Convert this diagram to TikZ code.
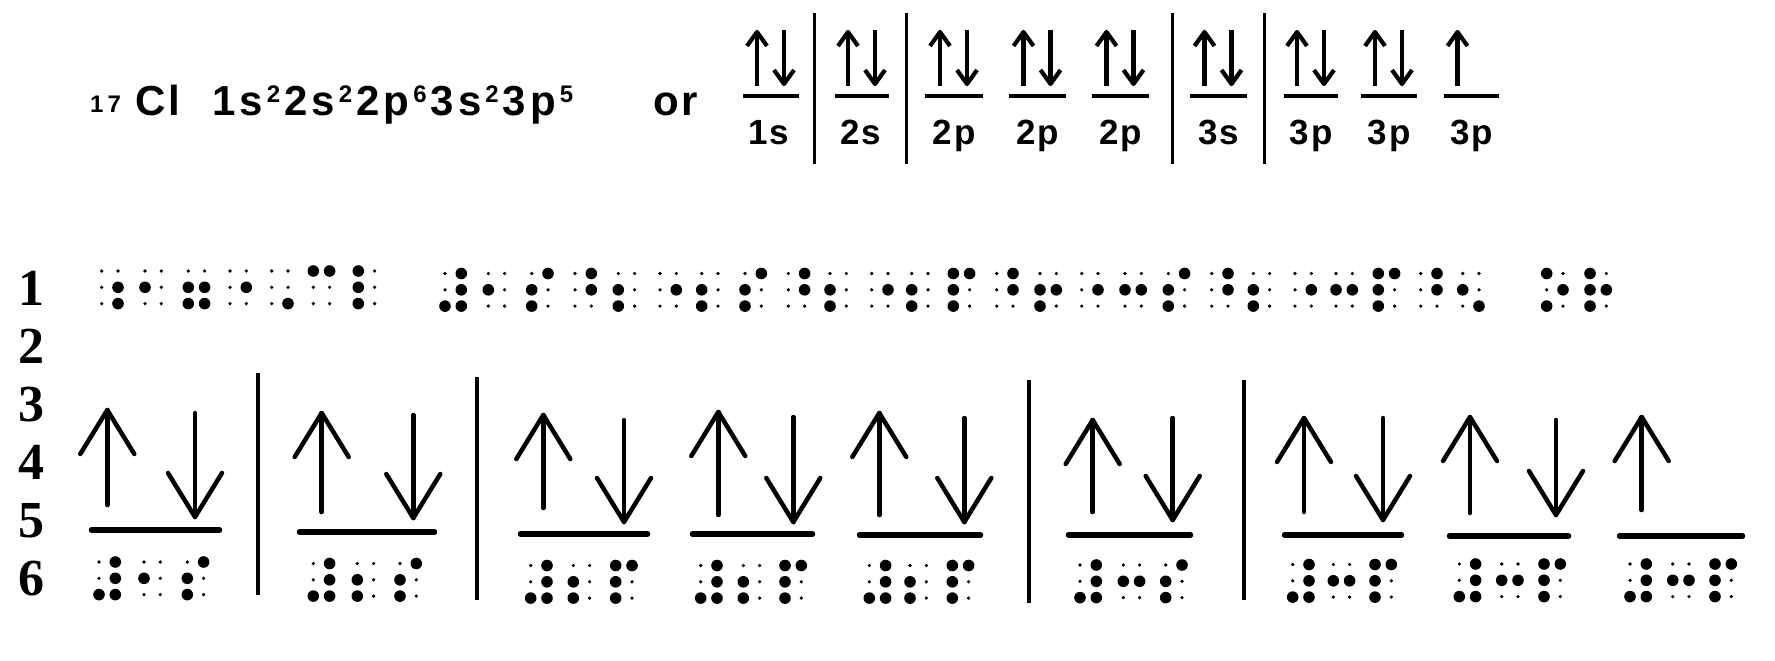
\documentclass[tikz,border=0pt]{standalone}
\usepackage{fontspec}
\setmainfont{Liberation Sans}
\newfontfamily\rowfont{Liberation Serif}
\newcommand\ks{\kern4pt}
\newcommand\sups[1]{\raisebox{13pt}{\fontsize{24}{24}\selectfont #1}}
\newcommand\orb[2]{#1\kern2pt #2}
% braille
\newcommand\bdot[3]{\ifnum#3=1 \fill (#1,#2) circle[radius=5.8pt];\else\fill (#1,#2) circle[radius=1.8pt];\fi}
\def\brlp#1#2#3#4#5#6{\bdot{\bx}{\by}{#1}\bdot{\bx}{\by+16.3}{#2}\bdot{\bx}{\by+32.6}{#3}%
 \bdot{\bx+16.3}{\by}{#4}\bdot{\bx+16.3}{\by+16.3}{#5}\bdot{\bx+16.3}{\by+32.6}{#6}}
\newcommand\brl[3]{\def\bx{#1}\def\by{#2}\expandafter\brlp#3}
\def\pnum{001111}\def\pone{010000}\def\ptwo{011000}\def\pthree{010010}\def\ps{011100}\def\pp{111100}
% spins
\newcommand\upspin[3]{\draw[spin] (#1,#3) -- (#1,#2); \draw[spin] (#1-27,#2+44) -- (#1,#2) -- (#1+27,#2+44);}
\newcommand\dnspin[3]{\draw[spin] (#1,#2) -- (#1,#3); \draw[spin] (#1-27,#3-44) -- (#1,#3) -- (#1+27,#3-44);}
\newcommand\tup[1]{\draw[tspin] (#1,86) -- (#1,32); \draw[tspin] (#1-10,46) -- (#1,32) -- (#1+10,46);}
\newcommand\tdn[1]{\draw[tspin] (#1,30) -- (#1,84); \draw[tspin] (#1-10,70) -- (#1,84) -- (#1+10,70);}
\begin{document}
\begin{tikzpicture}[x=1pt,y=-1pt,
  spin/.style={line width=4.5pt, line cap=round, line join=round},
  tspin/.style={line width=4.2pt, line cap=butt, line join=round},
  level/.style={line width=5.5pt, line cap=round},
  tlevel/.style={line width=4pt},
  bar/.style={line width=4pt},
  tbar/.style={line width=3pt},
  txt/.style={inner sep=0pt, anchor=base west, font=\bfseries\fontsize{42}{42}\selectfont},
  lab/.style={inner sep=0pt, anchor=base, font=\bfseries\fontsize{35}{35}\selectfont},
  rownum/.style={inner sep=0pt, anchor=base, font=\rowfont\bfseries\fontsize{52}{52}\selectfont}]
\useasboundingbox (0,0) rectangle (1775,661);
% ---- top formula ----
\node[txt, font=\bfseries\fontsize{24}{24}\selectfont] (sub) at (90,112) {1\kern4pt 7};
\node[txt] (cl) at (135,115) {C\kern3pt l};
\node[txt] (cfg) at (212,115) {1\ks s\ks\sups{2}\ks 2\ks s\ks\sups{2}\ks 2\ks p\ks\sups{6}\ks 3\ks s\ks\sups{2}\ks 3\ks p\ks\sups{5}};
\node[txt] (or) at (653,115) {o\kern3pt r};
% ---- top orbital boxes ----
\foreach \a/\b in {743/799, 835/889, 925/983, 1009/1066, 1092/1149, 1190/1247, 1284/1338, 1361/1417, 1444/1499}
  \draw[tlevel] (\a,96) -- (\b,96);
\foreach \c in {771, 862, 954, 1037.5, 1120.5, 1218.5, 1311, 1389}
  {\tup{\c-14}\tdn{\c+13}}
\tup{1471.5-14}
\foreach \xb in {814, 906.6, 1172, 1264.3}
  \draw[tbar] (\xb,13) -- (\xb,164);
\node[lab] (t1s) at (769,144) {\orb{1}{s}};
\node[lab] (t2s) at (861,144) {\orb{2}{s}};
\node[lab] (t2pa) at (954,144) {\orb{2}{p}};
\node[lab] (t2pb) at (1037.5,144) {\orb{2}{p}};
\node[lab] (t2pc) at (1120.5,144) {\orb{2}{p}};
\node[lab] (t3s) at (1218.5,144) {\orb{3}{s}};
\node[lab] (t3pa) at (1311,144) {\orb{3}{p}};
\node[lab] (t3pb) at (1389,144) {\orb{3}{p}};
\node[lab] (t3pc) at (1471.5,144) {\orb{3}{p}};
% ---- row numbers ----
\node[rownum] (r1) at (32,305) {1};
\node[rownum] (r2) at (32,363) {2};
\node[rownum] (r3) at (32,421) {3};
\node[rownum] (r4) at (32,479) {4};
\node[rownum] (r5) at (32,537.5) {5};
\node[rownum] (r6) at (32,595) {6};
% ---- braille line 1 ----
\foreach \cx/\cp in {101.7/000011, 145/010000, 188.3/011011, 230/000010, 271.7/000001, 313.3/100100, 358.3/111000}
  {\brl{\cx}{271}{\cp}}
\foreach \cx/\cp in {445/001111, 488.3/010000, 531.7/011100, 575/000110, 618.3/011000, 660/000010, 701.7/011000, 745/011100, 788.3/000110, 830/011000, 871.7/000010, 911.7/011000, 953.3/111100, 996.7/000110, 1040/011010, 1081.7/000010, 1125/010010, 1168.3/011100, 1211.7/000110, 1253.3/011000, 1295/000010, 1336/010010, 1378.3/111100, 1420.7/000110, 1462.7/010001, 1546.7/101010, 1590/111010}
  {\brl{\cx}{273.5}{\cp}}
% ---- bottom orbital diagram ----
\foreach \a/\b/\y in {89/222/530, 297/437/532, 518/650/534, 690/815/534, 857/983/535, 1066/1193/535, 1282/1404/535, 1447/1571/536, 1617/1745/536}
  \draw[level] (\a+2.5,\y) -- (\b-2.5,\y);
\draw[bar] (258,373) -- (258,595);
\draw[bar] (476.7,377) -- (476.7,600);
\draw[bar] (1029.3,380) -- (1029.3,603);
\draw[bar] (1244.3,380) -- (1244.3,600);
\upspin{107.3}{410}{505} \dnspin{195}{413}{517}
\upspin{321.7}{413}{512} \dnspin{413.3}{415}{518}
\upspin{543.3}{415}{508} \dnspin{624}{420}{522}
\upspin{718.3}{412}{515} \dnspin{793.3}{417}{522}
\upspin{879.3}{413}{515} \dnspin{964.3}{418}{522}
\upspin{1092.7}{420}{512} \dnspin{1172.7}{418}{520}
\upspin{1304}{418}{512} \dnspin{1383}{418}{520}
\upspin{1470}{417}{513} \dnspin{1556}{420}{515}
\upspin{1641.7}{417}{510}
% ---- braille line 6 ----
\brl{99}{562}{\pnum}\brl{144}{562}{\pone}\brl{187.3}{562}{\ps}
\brl{313.3}{563.5}{\pnum}\brl{357.3}{563.5}{\ptwo}\brl{400}{563.5}{\ps}
\brl{530.7}{565.5}{\pnum}\brl{573.3}{565.5}{\ptwo}\brl{615.7}{565.5}{\pp}
\brl{700.7}{565.5}{\pnum}\brl{743.3}{565.5}{\ptwo}\brl{785}{565.5}{\pp}
\brl{869.3}{565.5}{\pnum}\brl{910}{565.5}{\ptwo}\brl{952.3}{565.5}{\pp}
\brl{1080}{565}{\pnum}\brl{1123.3}{565}{\pthree}\brl{1165.7}{565}{\ps}
\brl{1292.7}{564.5}{\pnum}\brl{1333.3}{564.5}{\pthree}\brl{1375}{564.5}{\pp}
\brl{1459.3}{564}{\pnum}\brl{1501.7}{564}{\pthree}\brl{1544}{564}{\pp}
\brl{1630}{564}{\pnum}\brl{1672.7}{564}{\pthree}\brl{1715}{564}{\pp}
\end{tikzpicture}
\end{document}
